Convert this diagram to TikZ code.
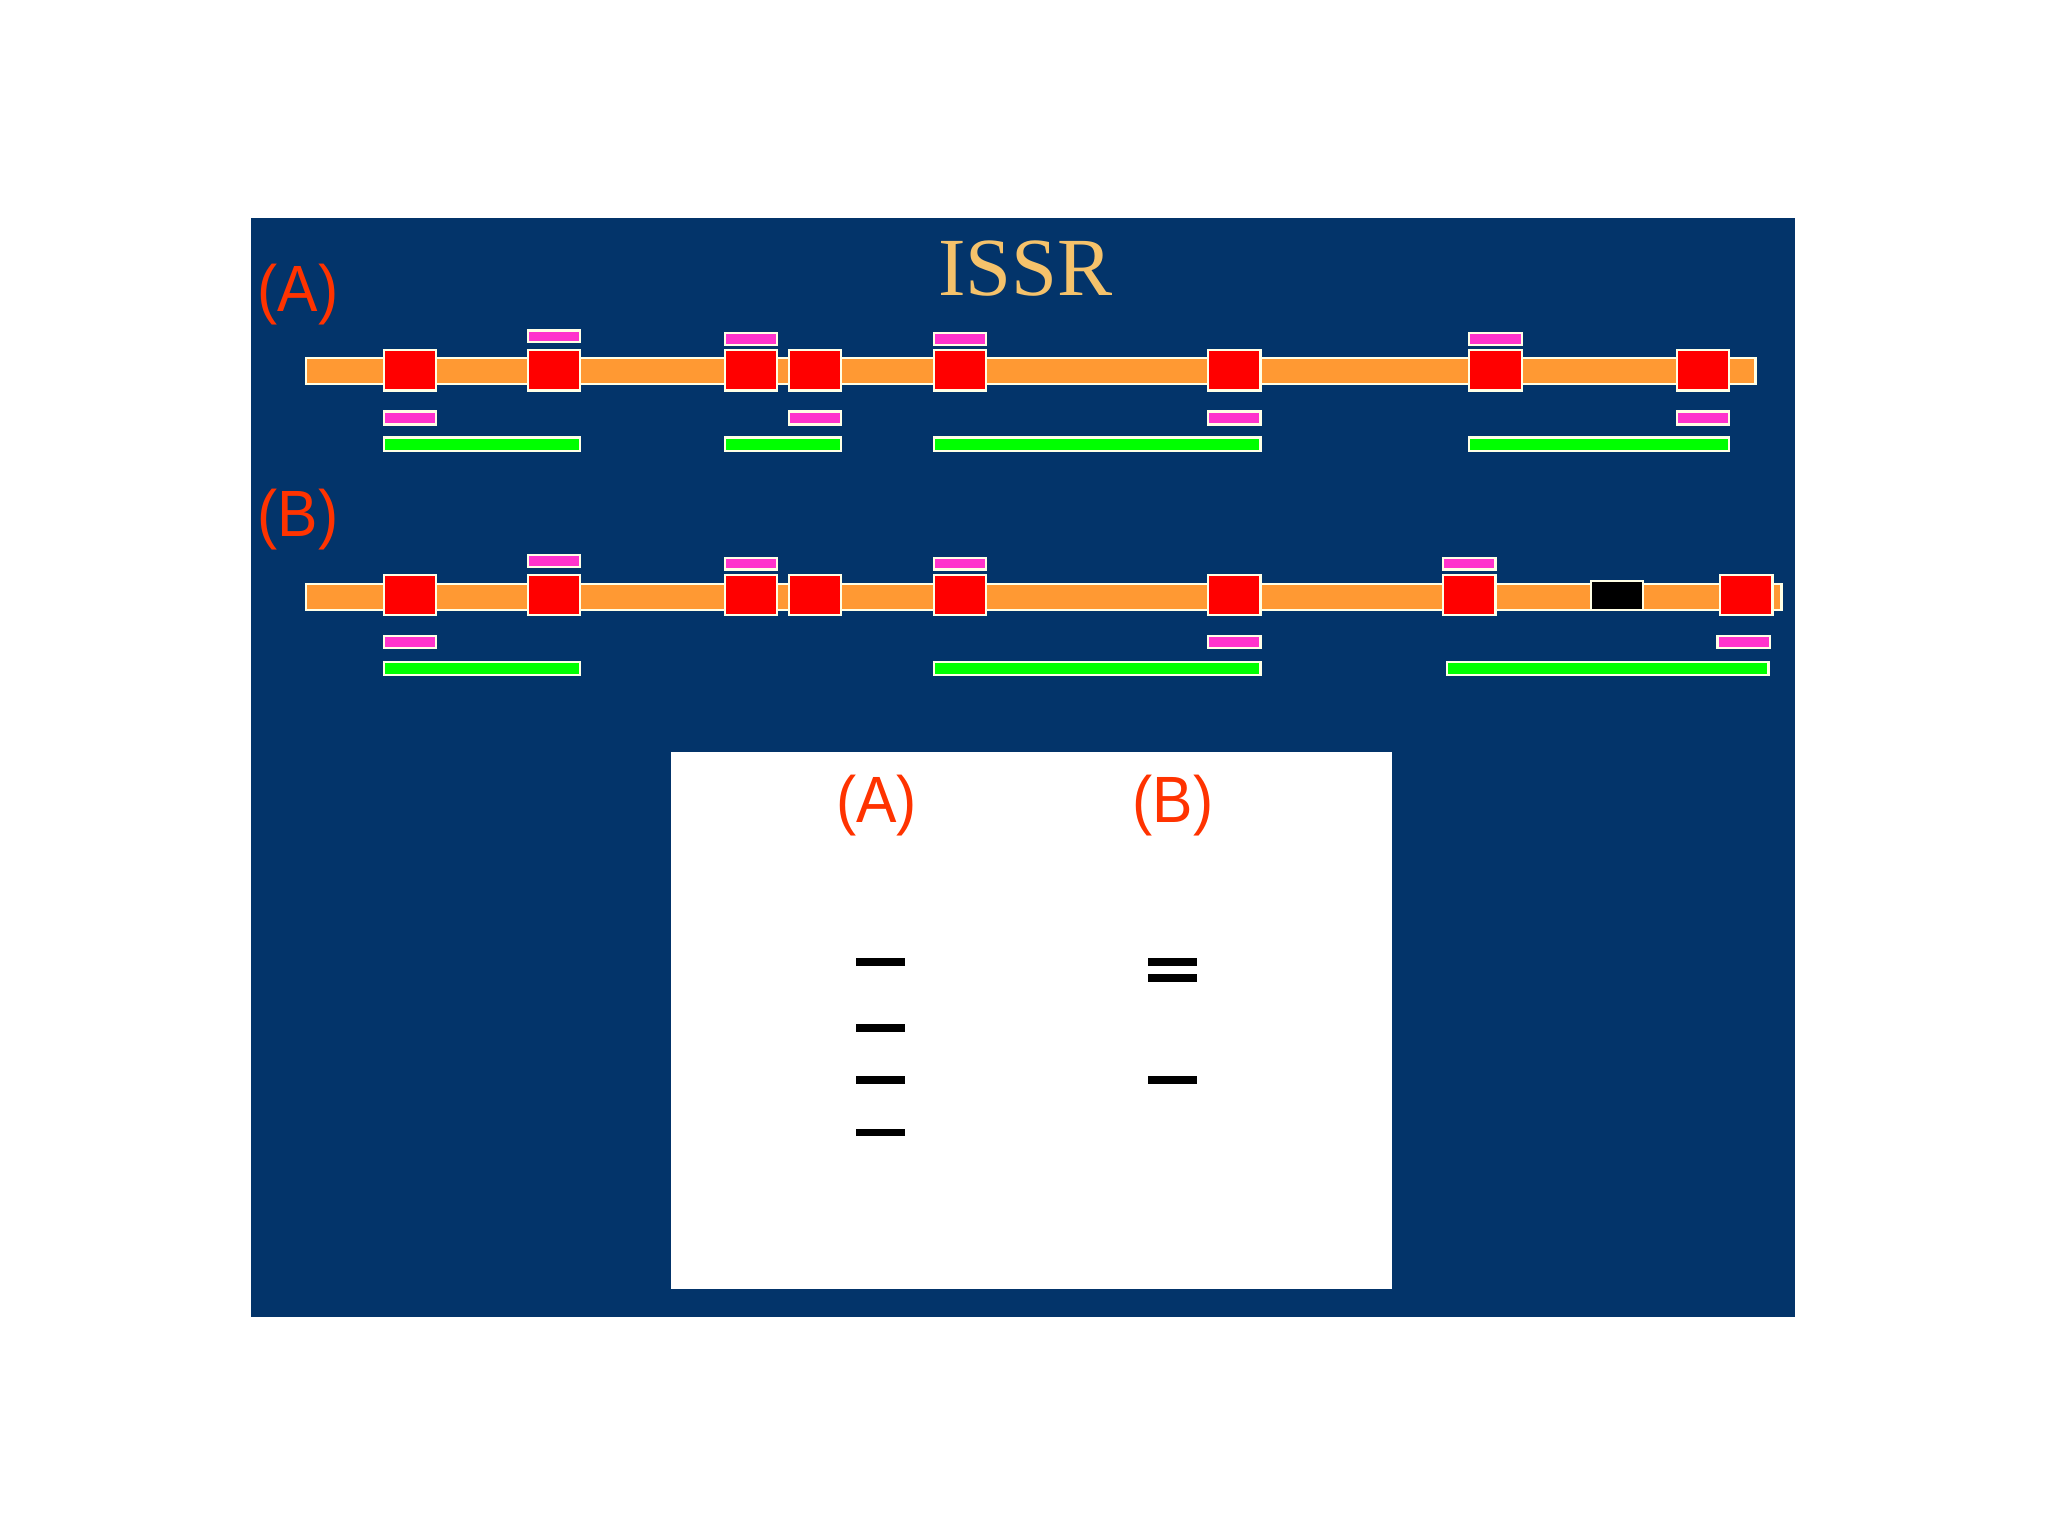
\documentclass[tikz,border=0pt]{standalone}
\usepackage{fontspec}
\setmainfont{Liberation Serif}
\setsansfont{Liberation Sans}
\usepackage{tikz}
\definecolor{navy}{HTML}{03346A}
\definecolor{gold}{HTML}{F5C26B}
\definecolor{labred}{HTML}{FF3300}
\definecolor{dnaorange}{HTML}{FF9933}
\definecolor{primerpink}{HTML}{FF33CC}
\definecolor{prodgreen}{HTML}{00FF00}
\definecolor{edge}{HTML}{FFFFE6}
\tikzset{bar/.style = {fill=dnaorange, draw=edge, line width=0.6pt}}
\tikzset{site/.style = {fill=red, draw=edge, line width=0.6pt}}
\tikzset{primer/.style = {fill=primerpink, draw=edge, line width=0.6pt}}
\tikzset{product/.style = {fill=prodgreen, draw=edge, line width=0.6pt}}
\tikzset{band/.style = {fill=black}}
\tikzset{lab/.style = {text=labred, anchor=base, inner sep=0, yscale=1.08,
                       font=\sffamily\fontsize{16.5}{19}\selectfont}}

\begin{document}
\begin{tikzpicture}[x=0.0125cm, y=-0.0125cm]
  \useasboundingbox (0,0) rectangle (1568,1176);
  \fill[navy] (192,167) rectangle (1374,1008);
  \node[text=gold, anchor=base, inner sep=0,
        font=\fontsize{22.5}{27}\selectfont] (title) at (785,226.6) {ISSR};
  \node[lab] (labA) at (228,238.6) {(A)};
  \node[lab] (labB) at (228,410.6) {(B)};

  % template (A)
  \draw[bar] (234,274) rectangle (1344,294);
  \foreach \x in {294,404,555,604,715,925,1125,1284}
    \draw[site] (\x,268) rectangle ++(40,31);
  \foreach \x/\y in {404/253,555/255,715/255,1125/255}
    \draw[primer] (\x,\y) rectangle ++(40,9);
  \foreach \x in {294,604,925,1284}
    \draw[primer] (\x,315) rectangle ++(40,10);
  \foreach \a/\b in {294/444,555/644,715/965,1125/1324}
    \draw[product] (\a,335) rectangle (\b,345);

  % template (B), one site lost
  \draw[bar] (234,447) rectangle (1364,467);
  \foreach \x in {294,404,555,604,715,925,1105,1317}
    \draw[site] (\x,440) rectangle ++(40,31);
  \draw[fill=black, draw=edge, line width=0.6pt] (1218,445) rectangle (1258,467);
  \foreach \x/\y in {404/425,555/427,715/427,1105/427}
    \draw[primer] (\x,\y) rectangle ++(40,9);
  \foreach \x in {294,925,1315}
    \draw[primer] (\x,487) rectangle ++(40,9);
  \foreach \a/\b in {294/444,715/965,1108/1354}
    \draw[product] (\a,507) rectangle (\b,517);

  % gel
  \fill[white] (514,576) rectangle (1066,987);
  \node[lab] (gelA) at (671,630) {(A)};
  \node[lab] (gelB) at (898,630) {(B)};
  \foreach \y in {736.6,787,827,867}
    \fill[band] (655.7,\y-3) rectangle ++(37.5,6);
  \foreach \y in {736.6,749,827}
    \fill[band] (879,\y-3) rectangle ++(37.5,6);
\end{tikzpicture}
\end{document}
